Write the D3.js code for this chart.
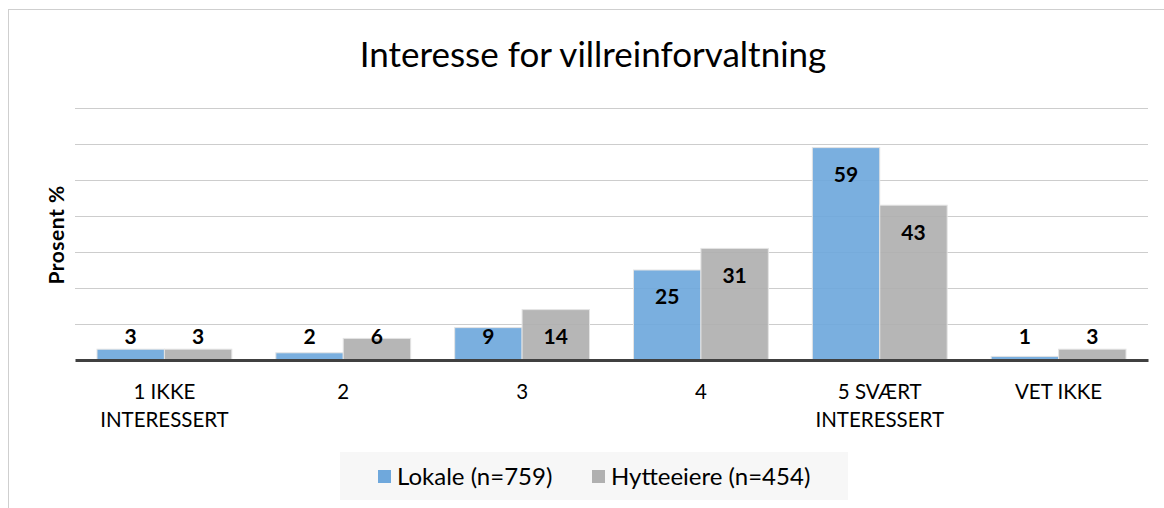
<!DOCTYPE html>
<html>
<head>
<meta charset="utf-8">
<script src="https://cdn.jsdelivr.net/npm/d3@7"></script>
<style>
  html, body { margin: 0; padding: 0; background: #fff; }
  svg text { font-family: Lato, "Noto Sans", sans-serif; }
</style>
</head>
<body>
<div id="chart"></div>
<script>
const categories = ["1 IKKE|INTERESSERT", "2", "3", "4", "5 SVÆRT|INTERESSERT", "VET IKKE"];
const seriesNames = ["Lokale (n=759)", "Hytteeiere (n=454)"];
const lokale = [3, 2, 9, 25, 59, 1];
const hytteeiere = [3, 6, 14, 31, 43, 3];
const yTicks = [0, 10, 20, 30, 40, 50, 60, 70];

const colors = ["#6fa8dc", "#b0b0b0"];
const width = 1164, height = 508;
const plot = { left: 75, right: 1148, top: 108, bottom: 360 };

const rows = categories.map((c, i) => ({ cat: c, values: [lokale[i], hytteeiere[i]] }));

const svg = d3.select("#chart").append("svg")
  .attr("width", width)
  .attr("height", height);

svg.append("rect")
  .attr("x", 8.5).attr("y", 9.5)
  .attr("width", 1200).attr("height", 540)
  .attr("fill", "#fff")
  .attr("stroke", "#cfcfcf");

svg.append("text")
  .attr("x", 593).attr("y", 67)
  .attr("text-anchor", "middle")
  .style("font-size", "35px")
  .text("Interesse for villreinforvaltning");

const x0 = d3.scaleBand()
  .domain(categories)
  .range([plot.left, plot.right]);

const x1 = d3.scaleBand()
  .domain([0, 1])
  .range([22, x0.bandwidth() - 22]);

const y = d3.scaleLinear()
  .domain([0, 70])
  .range([plot.bottom, plot.top]);

// gridlines
svg.append("g")
  .selectAll("line")
  .data(yTicks.slice(1))
  .join("line")
  .attr("x1", plot.left).attr("x2", plot.right)
  .attr("y1", d => y(d) + 0.5).attr("y2", d => y(d) + 0.5)
  .attr("stroke", "#cdcdcd")
  .attr("stroke-width", 1.2);

// bars
const groups = svg.append("g")
  .selectAll("g")
  .data(rows)
  .join("g")
  .attr("transform", d => `translate(${x0(d.cat)},0)`);

groups.selectAll("rect")
  .data(d => d.values.map((v, s) => ({ v, s })))
  .join("rect")
  .attr("x", d => x1(d.s))
  .attr("y", d => y(d.v))
  .attr("width", x1.bandwidth())
  .attr("height", d => y(0) - y(d.v))
  .attr("fill", d => colors[d.s])
  .attr("fill-opacity", 0.92)
  .attr("stroke", "#e4e4e4")
  .attr("stroke-width", 1);

groups.selectAll("text.val")
  .data(d => d.values.map((v, s) => ({ v, s })))
  .join("text")
  .attr("class", "val")
  .attr("x", d => x1(d.s) + x1.bandwidth() / 2)
  .attr("y", d => Math.min(y(d.v) + 27, 337))
  .attr("dy", "0.35em")
  .attr("text-anchor", "middle")
  .style("font-size", "21px")
  .style("font-weight", "bold")
  .text(d => d.v);

// x axis
const xAxis = svg.append("g")
  .attr("transform", `translate(0,${plot.bottom})`)
  .call(d3.axisBottom(x0).tickSize(0).tickFormat(""));
xAxis.select(".domain")
  .attr("stroke", "#404040")
  .attr("stroke-width", 3);

xAxis.selectAll(".tick").each(function (d) {
  const lines = d.split("|");
  const t = d3.select(this).append("text")
    .attr("fill", "#000")
    .attr("text-anchor", "middle")
    .style("font-size", "20.5px");
  lines.forEach((ln, i) => {
    t.append("tspan").attr("x", 0).attr("y", 39 + i * 28).text(ln);
  });
});

// y axis title
svg.append("text")
  .attr("transform", "translate(64,235) rotate(-90)")
  .attr("text-anchor", "middle")
  .style("font-size", "21px")
  .style("font-weight", "bold")
  .style("letter-spacing", "0.5px")
  .text("Prosent %");

// legend
const legend = svg.append("g");
legend.append("rect")
  .attr("x", 340).attr("y", 452)
  .attr("width", 508).attr("height", 48)
  .attr("fill", "#f7f7f7");

const legendX = [378, 592];
seriesNames.forEach((name, i) => {
  legend.append("rect")
    .attr("x", legendX[i]).attr("y", 470)
    .attr("width", 13).attr("height", 13)
    .attr("fill", colors[i]);
  legend.append("text")
    .attr("x", legendX[i] + 19).attr("y", 485)
    .style("font-size", "24px")
    .text(name);
});
</script>
</body>
</html>
